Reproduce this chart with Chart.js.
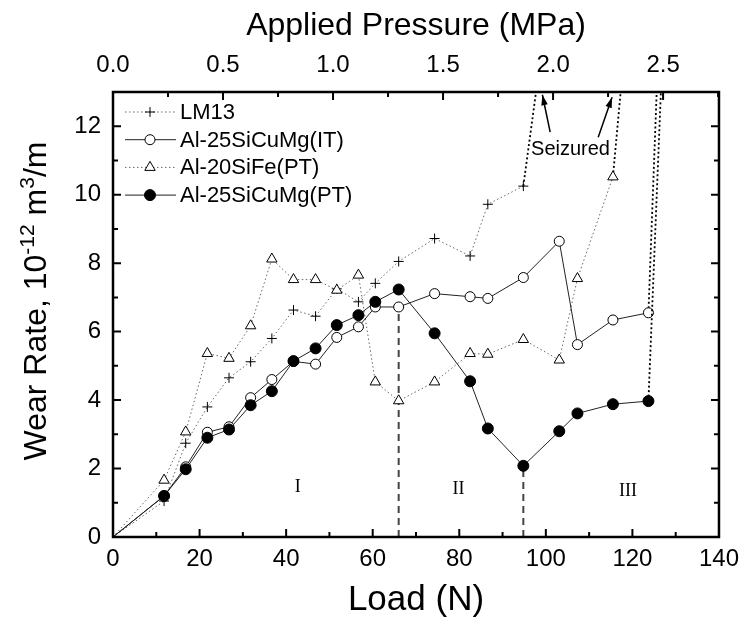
<!DOCTYPE html>
<html>
<head>
<meta charset="utf-8">
<script src="https://cdn.jsdelivr.net/npm/chart.js@4.4.1/dist/chart.umd.min.js"></script>
<style>
  html, body { margin: 0; padding: 0; background: #fff; }
  canvas { display: block; }
</style>
</head>
<body>
<canvas id="wearChart" width="747" height="626"></canvas>
<script>
// loads (N) the pins were run at
const loads = [0, 11.8, 16.8, 21.8, 26.8, 31.8, 36.7, 41.7, 46.8, 51.7, 56.7, 60.6, 66.0, 74.3, 82.5, 86.6, 94.8, 103.1, 107.3, 115.5, 123.7];

// wear rate, 10^-12 m^3/m
const lm13   = [0, 1.05, 2.74, 3.80, 4.65, 5.12, 5.80, 6.63, 6.45, 7.25, 6.87, 7.41, 8.05, 8.72, 8.21, 9.72, 10.25];
const al25IT = [0, 1.20, 2.05, 3.06, 3.22, 4.07, 4.60, 5.13, 5.05, 5.83, 6.14, 6.72, 6.72, 7.11, 7.02, 6.97, 7.58, 8.64, 5.62, 6.34, 6.55];
const al20PT = [0, 1.66, 3.07, 5.36, 5.22, 6.17, 8.12, 7.52, 7.52, 7.21, 7.65, 4.53, 3.98, 4.53, 5.36, 5.34, 5.77, 5.17, 7.55, 10.52];
const al25PT = [0, 1.20, 1.98, 2.90, 3.14, 3.85, 4.26, 5.14, 5.51, 6.19, 6.48, 6.87, 7.23, 5.95, 4.55, 3.17, 2.08, 3.09, 3.61, 3.88, 3.97];

const seriesNames = ['LM13', 'Al-25SiCuMg(IT)', 'Al-20SiFe(PT)', 'Al-25SiCuMg(PT)'];

// where each alloy seized: the line runs off the top of the plot
const seizedLoad = [98.8, 125.9, 118.0, 126.9];
const seizedRate = 14;

// regime boundaries and labels
const transitionLoads = [66.0, 94.8];
const transitionRates = [6.72, 2.08];
const regimeLabels = ['I', 'II', 'III'];
const regimeLoads = [42.7, 79.8, 119.0];
const regimeRates = [1.46, 1.40, 1.34];

const loadMax = 140;
const pressureMax = 2.754;   // 140 N on the top axis
const rateMax = 13;

const FONT = "'Liberation Sans', Arial, sans-serif";

const pts = (vals, seize) =>
  vals.map((v, i) => ({ x: loads[i], y: v })).concat([{ x: seize, y: seizedRate }]);

// marker hidden at the origin and at the off-scale seizure point
const radius = size => c => (c.raw && (c.raw.x === 0 || c.raw.y > rateMax)) ? 0 : size;
const seizeDash = c => c.p1.parsed.y > rateMax ? [2, 2.5] : undefined;
const seizeColor = c => c.p1.parsed.y > rateMax ? '#000' : undefined;
const seizeWidth = c => c.p1.parsed.y > rateMax ? 1.8 : undefined;

const markerSize = [5, 5, 6, 5.5];

const datasets = [
  {
    label: seriesNames[0], data: pts(lm13, seizedLoad[0]), order: 3,
    borderColor: '#666', borderWidth: 1, borderDash: [1.5, 2.5],
    pointStyle: 'cross', pointRadius: radius(markerSize[0]),
    pointBorderColor: '#000', pointBackgroundColor: '#fff', pointBorderWidth: 1
  },
  {
    label: seriesNames[1], data: pts(al25IT, seizedLoad[1]), order: 1,
    borderColor: '#222', borderWidth: 1,
    pointStyle: 'circle', pointRadius: radius(markerSize[1]),
    pointBorderColor: '#000', pointBackgroundColor: '#fff', pointBorderWidth: 1
  },
  {
    label: seriesNames[2], data: pts(al20PT, seizedLoad[2]), order: 2,
    borderColor: '#666', borderWidth: 1, borderDash: [1.5, 2.5],
    pointStyle: 'triangle', pointRadius: radius(markerSize[2]),
    pointBorderColor: '#000', pointBackgroundColor: '#fff', pointBorderWidth: 1
  },
  {
    label: seriesNames[3], data: pts(al25PT, seizedLoad[3]), order: 0,
    borderColor: '#222', borderWidth: 1,
    pointStyle: 'circle', pointRadius: radius(markerSize[3]),
    pointBorderColor: '#000', pointBackgroundColor: '#000', pointBorderWidth: 1
  }
];
datasets.forEach(d => {
  d.fill = false;
  d.tension = 0;
  d.segment = { borderDash: seizeDash, borderColor: seizeColor, borderWidth: seizeWidth };
});

transitionLoads.forEach((x, i) => {
  datasets.push({
    label: 'boundary' + i,
    data: [{ x: x, y: 0 }, { x: x, y: transitionRates[i] }],
    order: 4, borderColor: '#444', borderWidth: 2, borderDash: [7, 5],
    pointRadius: 0, fill: false
  });
});

// custom drawing: frame with inward ticks, legend, notes, y title
const decor = {
  id: 'decor',
  afterDatasetsDraw(chart) {
    const ctx = chart.ctx;
    const a = chart.chartArea;
    const sx = chart.scales.x, st = chart.scales.xTop, sy = chart.scales.y;

    ctx.save();
    ctx.strokeStyle = '#000';
    ctx.lineWidth = 2.5;
    ctx.setLineDash([]);
    ctx.strokeRect(a.left, a.top, a.right - a.left, a.bottom - a.top);

    ctx.lineWidth = 2;
    const ticks = (scale, step, every, draw) => {
      for (let i = 0; i * step <= scale.max + 1e-9; i++) {
        const len = i % every === 0 ? 8 : 5;
        draw(scale.getPixelForValue(i * step), len);
      }
    };
    ctx.beginPath();
    ticks(sx, 10, 2, (p, l) => { ctx.moveTo(p, a.bottom); ctx.lineTo(p, a.bottom - l); });
    ticks(st, 0.25, 2, (p, l) => { ctx.moveTo(p, a.top); ctx.lineTo(p, a.top + l); });
    ticks(sy, 1, 2, (p, l) => {
      ctx.moveTo(a.left, p); ctx.lineTo(a.left + l, p);
      ctx.moveTo(a.right, p); ctx.lineTo(a.right - l, p);
    });
    ctx.stroke();

    // legend
    chart.data.datasets.slice(0, 4).forEach((ds, i) => {
      const y = 112 + i * 27.7;
      ctx.strokeStyle = ds.borderColor;
      ctx.lineWidth = ds.borderWidth;
      ctx.setLineDash(ds.borderDash || []);
      ctx.beginPath();
      ctx.moveTo(125, y); ctx.lineTo(176, y);
      ctx.stroke();
      ctx.setLineDash([]);
      ctx.strokeStyle = ds.pointBorderColor;
      ctx.fillStyle = ds.pointBackgroundColor;
      ctx.lineWidth = ds.pointBorderWidth;
      Chart.helpers.drawPoint(ctx, {
        pointStyle: ds.pointStyle, radius: markerSize[i], borderWidth: ds.pointBorderWidth, rotation: 0
      }, 150, y);
      ctx.fillStyle = '#000';
      ctx.font = '22px ' + FONT;
      ctx.textAlign = 'left';
      ctx.textBaseline = 'middle';
      ctx.fillText(ds.label, 180, y + 1);
    });

    // regime numerals
    ctx.fillStyle = '#000';
    ctx.font = "18px 'Liberation Serif', 'Times New Roman', serif";
    ctx.textAlign = 'center';
    ctx.textBaseline = 'middle';
    regimeLabels.forEach((t, i) => {
      ctx.fillText(t, sx.getPixelForValue(regimeLoads[i]), sy.getPixelForValue(regimeRates[i]));
    });

    // seizure note with arrows
    ctx.font = '20px ' + FONT;
    ctx.fillText('Seizured', sx.getPixelForValue(105.7), sy.getPixelForValue(11.33));
    const arrow = (x0, y0, x1, y1) => {
      const p0 = [sx.getPixelForValue(x0), sy.getPixelForValue(y0)];
      const p1 = [sx.getPixelForValue(x1), sy.getPixelForValue(y1)];
      const ang = Math.atan2(p1[1] - p0[1], p1[0] - p0[0]);
      ctx.lineWidth = 1.5;
      ctx.strokeStyle = '#000';
      ctx.beginPath();
      ctx.moveTo(p0[0], p0[1]); ctx.lineTo(p1[0], p1[1]);
      ctx.stroke();
      ctx.beginPath();
      ctx.moveTo(p1[0], p1[1]);
      ctx.lineTo(p1[0] - 11 * Math.cos(ang - 0.3), p1[1] - 11 * Math.sin(ang - 0.3));
      ctx.lineTo(p1[0] - 11 * Math.cos(ang + 0.3), p1[1] - 11 * Math.sin(ang + 0.3));
      ctx.closePath();
      ctx.fill();
    };
    arrow(101.0, 11.83, 99.2, 12.92);
    arrow(112.1, 11.68, 115.3, 12.85);

    // y axis title with superscripts
    ctx.translate(46, 301);
    ctx.rotate(-Math.PI / 2);
    const parts = [['Wear Rate, 10', 32, 0], ['-12', 21, -12], [' m', 32, 0], ['3', 21, -12], ['/m', 32, 0]];
    let total = 0;
    parts.forEach(p => { ctx.font = p[1] + 'px ' + FONT; total += ctx.measureText(p[0]).width; });
    let x = -total / 2;
    ctx.textAlign = 'left';
    ctx.textBaseline = 'alphabetic';
    parts.forEach(p => {
      ctx.font = p[1] + 'px ' + FONT;
      ctx.fillText(p[0], x, p[2]);
      x += ctx.measureText(p[0]).width;
    });
    ctx.restore();
  }
};

const tickFont = { family: FONT, size: 24 };

new Chart(document.getElementById('wearChart'), {
  type: 'line',
  data: { datasets: datasets },
  options: {
    responsive: false,
    animation: false,
    devicePixelRatio: 1,
    layout: { padding: 0 },
    plugins: { legend: { display: false }, tooltip: { enabled: false } },
    scales: {
      x: {
        type: 'linear', position: 'bottom', min: 0, max: loadMax,
        grid: { display: false, drawTicks: false }, border: { display: false },
        ticks: { stepSize: 20, includeBounds: false, color: '#000', font: tickFont, padding: 8, maxRotation: 0 },
        title: { display: true, text: 'Load (N)', color: '#000', font: { family: FONT, size: 35 }, padding: { top: 0, bottom: 5 } },
        afterFit: s => { s.height = 89; }
      },
      xTop: {
        type: 'linear', position: 'top', min: 0, max: pressureMax,
        grid: { display: false, drawTicks: false }, border: { display: false },
        ticks: { stepSize: 0.5, includeBounds: false, color: '#000', font: tickFont, padding: 12, maxRotation: 0,
                 callback: v => v.toFixed(1) },
        title: { display: true, text: 'Applied Pressure (MPa)', color: '#000', font: { family: FONT, size: 32 }, padding: { top: 7, bottom: 0 } },
        afterFit: s => { s.height = 92; }
      },
      y: {
        type: 'linear', position: 'left', min: 0, max: rateMax,
        grid: { display: false, drawTicks: false }, border: { display: false },
        ticks: { stepSize: 2, includeBounds: false, color: '#000', font: tickFont, padding: 12 },
        afterFit: s => { s.width = 113; }
      },
      yRight: {
        type: 'linear', position: 'right', min: 0, max: rateMax,
        grid: { display: false, drawTicks: false }, border: { display: false },
        ticks: { display: false },
        afterFit: s => { s.width = 27; }
      }
    }
  },
  plugins: [decor]
});
</script>
</body>
</html>
